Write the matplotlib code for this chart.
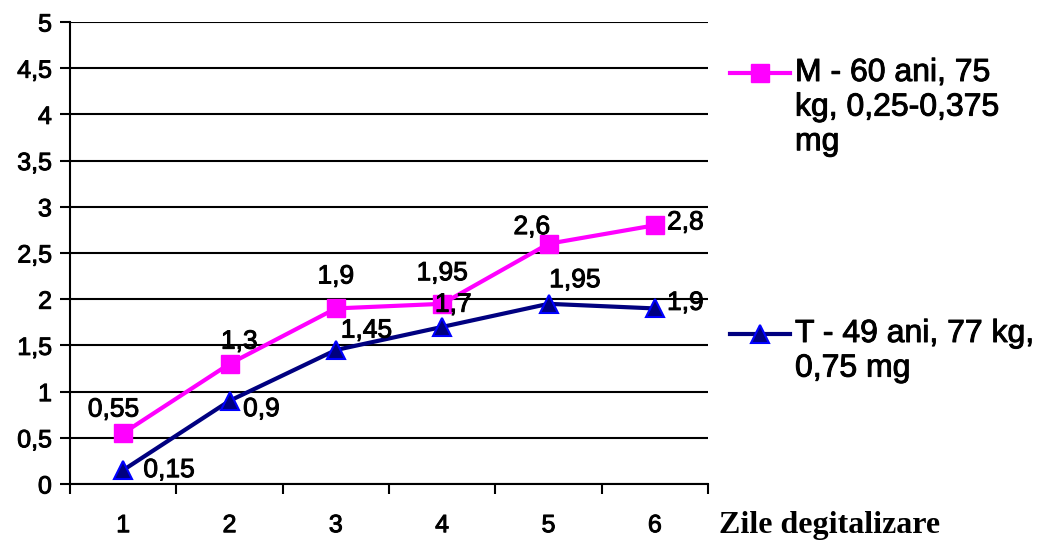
import matplotlib.pyplot as plt
import matplotlib.patheffects as pe
from matplotlib.lines import Line2D

plt.rcParams['font.family'] = ['Liberation Sans', 'DejaVu Sans']

# === Data ===
days = [1, 2, 3, 4, 5, 6]
m_values = [0.55, 1.3, 1.9, 1.95, 2.6, 2.8]
t_values = [0.15, 0.9, 1.45, 1.7, 1.95, 1.9]
m_label = 'M - 60 ani, 75\nkg, 0,25-0,375\nmg'
t_label = 'T - 49 ani, 77 kg,\n0,75 mg'
x_title = 'Zile degitalizare'
y_ticks = [0, 0.5, 1, 1.5, 2, 2.5, 3, 3.5, 4, 4.5, 5]

# label offsets in points (dx, dy)
m_offsets = [(-7, 17), (7, 16), (0, 23), (0, 22), (-12, 12), (22, 2)]
t_offsets = [(33, 0), (23, -6), (22, 14), (8, 16), (19, 17), (22, 4)]

# slightly heavier text, like the scanned original
heavy = [pe.withStroke(linewidth=0.7, foreground='black')]


def fmt(v):
    s = f'{v:g}'
    return s.replace('.', ',')


fig = plt.figure(figsize=(10.46, 5.40), dpi=100)
ax = fig.add_axes([70 / 1046, 56 / 540, 638 / 1046, 462 / 540])

ax.plot(days, m_values, color='#FF00FF', lw=3, marker='s', ms=13,
        mfc='#FF00FF', mec='#FF00FF', zorder=3)
ax.plot(days, t_values, color='#000080', lw=3, marker='^', ms=13,
        mfc='#000080', mec='#0000FF', mew=1.5, zorder=3)

for x, v, (dx, dy) in zip(days, m_values, m_offsets):
    ax.annotate(fmt(v), (x, v), xytext=(dx, dy), textcoords='offset points',
                ha='center', va='center', fontsize=19, zorder=4,
                path_effects=heavy)
for x, v, (dx, dy) in zip(days, t_values, t_offsets):
    ax.annotate(fmt(v), (x, v), xytext=(dx, dy), textcoords='offset points',
                ha='center', va='center', fontsize=19, zorder=4,
                path_effects=heavy)

# === Axes styling ===
ax.set_xlim(0.5, 6.5)
ax.set_ylim(0, 5)
ax.set_yticks(y_ticks)
ax.set_yticklabels([fmt(v) for v in y_ticks], fontsize=18)
ax.yaxis.grid(True, color='black', lw=1.5)
ax.set_axisbelow(True)
ax.tick_params(axis='y', length=7, width=1.5, pad=6)

ax.set_xticks([d - 0.5 for d in days] + [days[-1] + 0.5])
ax.set_xticklabels([])
ax.set_xticks(days, minor=True)
ax.set_xticklabels([str(d) for d in days], minor=True, fontsize=18)
ax.tick_params(axis='x', which='major', length=7, width=1.5)
ax.tick_params(axis='x', which='minor', length=0, pad=21)

for lbl in ax.get_yticklabels() + ax.get_xticklabels(minor=True):
    lbl.set_path_effects(heavy)

for side in ['top', 'right']:
    ax.spines[side].set_visible(False)
for side in ['left', 'bottom']:
    ax.spines[side].set_linewidth(1.5)

# === Legend (drawn by hand so the sample sits on the first text line) ===
for label, line, y in [(m_label, ax.lines[0], 1 - 73 / 540),
                       (t_label, ax.lines[1], 1 - 334 / 540)]:
    sample = Line2D([730 / 1046, 760 / 1046, 790 / 1046], [y, y, y],
                    transform=fig.transFigure, color=line.get_color(),
                    lw=line.get_linewidth(), marker=line.get_marker(),
                    ms=line.get_markersize(), mfc=line.get_markerfacecolor(),
                    mec=line.get_markeredgecolor(), mew=line.get_markeredgewidth(),
                    markevery=[1])
    fig.add_artist(sample)
    fig.text(795 / 1046, y + 15 / 540, label, ha='left', va='top',
             fontsize=23, linespacing=1.2, path_effects=heavy)

fig.text(719 / 1046, 0, x_title, ha='left', va='bottom',
         fontsize=23, fontweight='bold', family='Liberation Serif')

fig.savefig('out.png', dpi=100)
